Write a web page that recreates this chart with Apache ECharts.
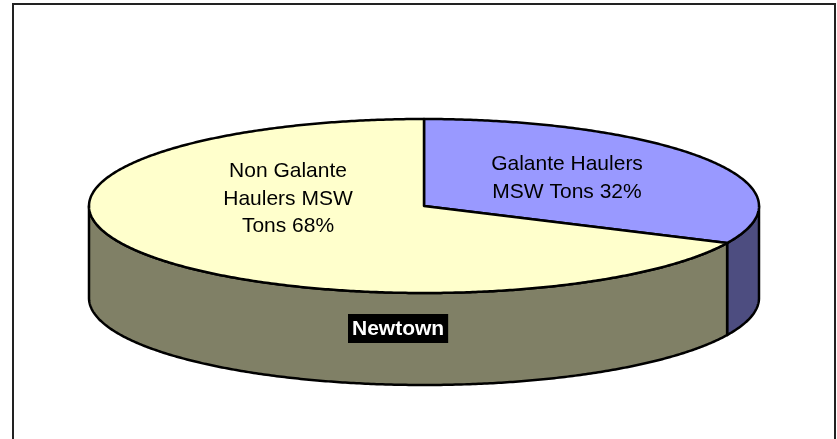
<!DOCTYPE html>
<html><head><meta charset="utf-8">
<style>html,body{margin:0;padding:0;background:#fff}#c{width:837px;height:439px}</style>
<script src="https://cdn.jsdelivr.net/npm/echarts@6/dist/echarts.min.js"></script>
</head><body><div id="c"></div>
<script>
const categories = ['Galante Haulers MSW Tons', 'Non Galante Haulers MSW Tons'];
const values = [32, 68];
const sliceLabels = ['Galante Haulers\nMSW Tons 32%', 'Non Galante\nHaulers MSW\nTons 68%'];
const chartTitle = 'Newtown';

const topColors = ['#9999FF', '#FFFFCC'];
const sideColors = ['#4D4D80', '#808066'];
const labelPos = [[567, 178], [288, 199]];
const CX = 424, CY = 206, RX = 335, RY = 87, DEPTH = 92;
const total = values.reduce((a, b) => a + b, 0);

function pt(deg, dy) {
  const r = deg * Math.PI / 180;
  return [CX + RX * Math.sin(r), CY - RY * Math.cos(r) + (dy || 0)];
}
function arc(a, b, dy) {
  const n = Math.max(2, Math.ceil(Math.abs(b - a) * 2)), out = [];
  for (let i = 0; i <= n; i++) out.push(pt(a + (b - a) * i / n, dy));
  return out;
}
const line = { stroke: '#000', lineWidth: 2.5, lineJoin: 'round' };

function renderItem(params, api) {
  const idx = params.dataIndex;
  let before = 0;
  for (let i = 0; i < idx; i++) before += values[i];
  const a0 = before / total * 360, a1 = (before + api.value(0)) / total * 360;
  const children = [];
  const s0 = Math.max(a0, 90), s1 = Math.min(a1, 270);
  if (s1 > s0) {
    children.push({
      type: 'polygon', z2: 1,
      shape: { points: arc(s0, s1, 0).concat(arc(s1, s0, DEPTH)) },
      style: Object.assign({ fill: sideColors[idx] }, line)
    });
  }
  children.push({
    type: 'polygon', z2: 2,
    shape: { points: [[CX, CY]].concat(arc(a0, a1, 0)) },
    style: Object.assign({ fill: topColors[idx] }, line)
  });
  children.push({
    type: 'text', z2: 3,
    style: {
      x: labelPos[idx][0], y: labelPos[idx][1], text: sliceLabels[idx],
      align: 'center', verticalAlign: 'middle',
      font: '21px "Liberation Sans", Arial, sans-serif', lineHeight: 27.5, fill: '#000'
    }
  });
  return { type: 'group', children };
}

const chart = echarts.init(document.getElementById('c'), null, { renderer: 'canvas' });
chart.setOption({
  animation: false,
  backgroundColor: '#fff',
  graphic: [{
    type: 'rect', silent: true, z: -1,
    shape: { x: 13, y: 4, width: 822, height: 450 },
    style: { fill: '#fff', stroke: '#222', lineWidth: 2 }
  }],
  title: {
    text: chartTitle, left: 348, top: 314,
    backgroundColor: '#000', padding: [5, 4, 3, 4],
    textStyle: { color: '#fff', fontSize: 21, fontWeight: 'bold', fontFamily: '"Liberation Sans", Arial, sans-serif' }
  },
  series: [{
    type: 'custom', coordinateSystem: 'none', silent: true,
    renderItem,
    data: values.map((v, i) => ({ name: categories[i], value: [v] }))
  }]
});
</script></body></html>
